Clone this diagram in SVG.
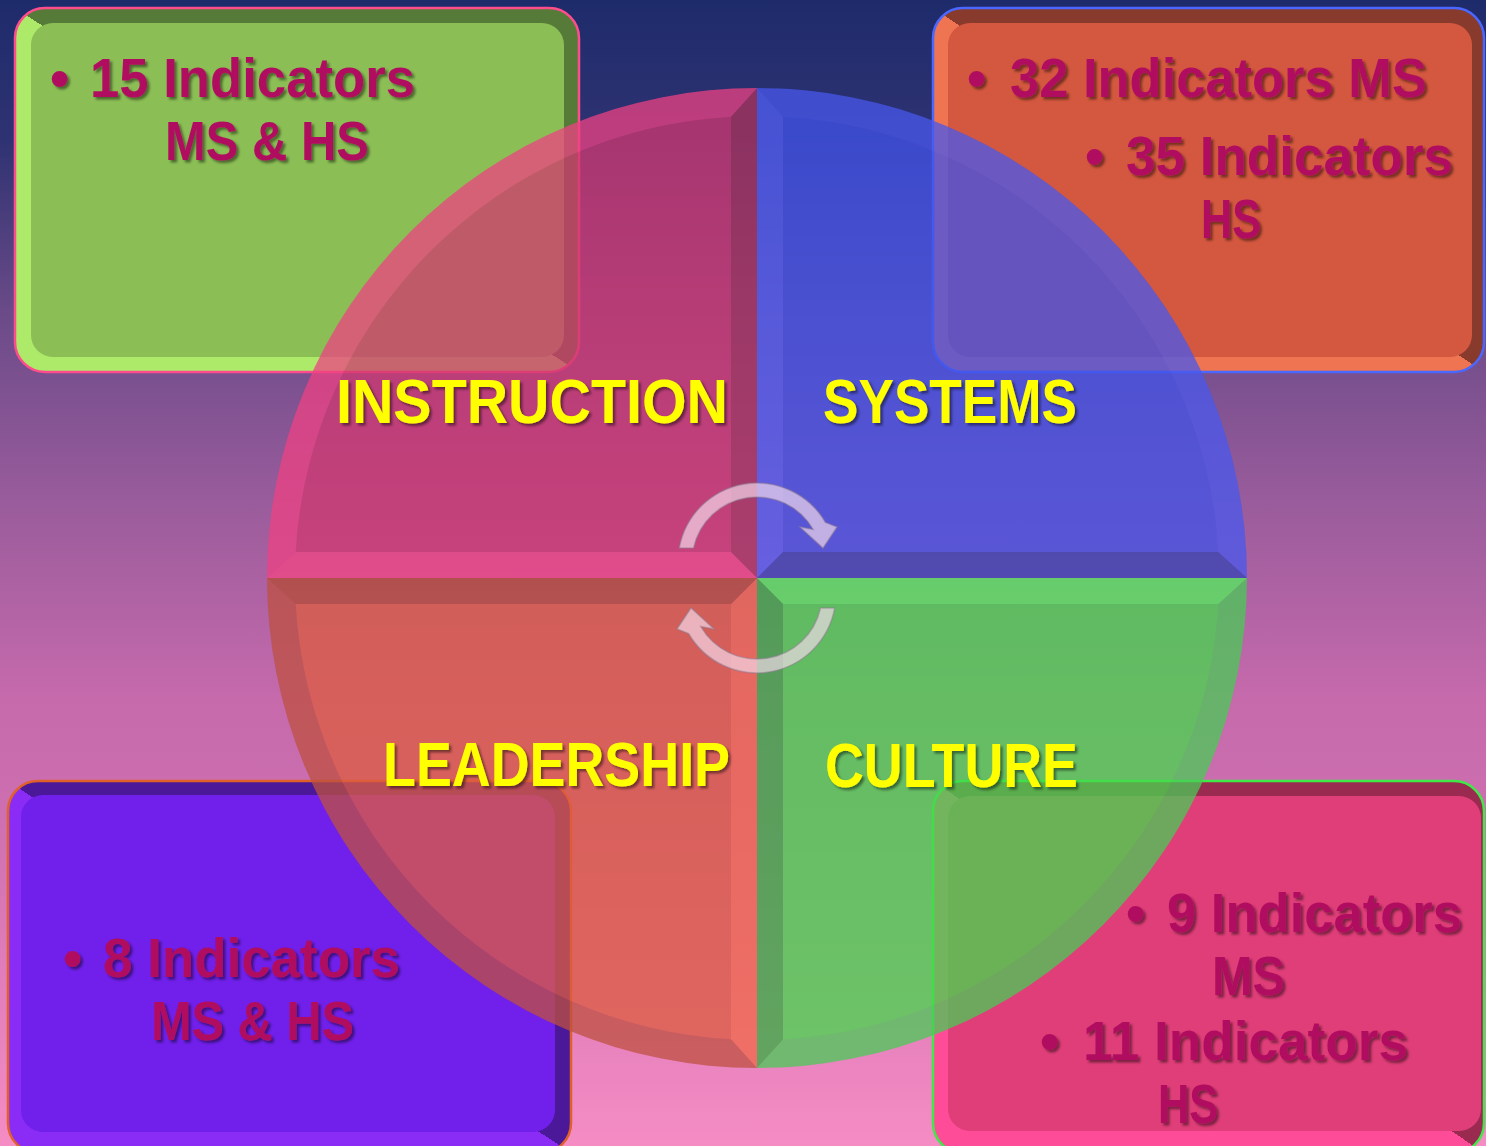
<svg xmlns="http://www.w3.org/2000/svg" width="1486" height="1146" viewBox="0 0 1486 1146">
<defs>
<linearGradient id="bg" x1="0" y1="0" x2="0" y2="1">
<stop offset="0" stop-color="#1E2B6B"/>
<stop offset="0.12" stop-color="#2E3272"/>
<stop offset="0.27" stop-color="#6A4A88"/>
<stop offset="0.44" stop-color="#9A5C9C"/>
<stop offset="0.61" stop-color="#C66AAC"/>
<stop offset="0.7" stop-color="#CC6EB0"/>
<stop offset="1" stop-color="#F58CC4"/>
</linearGradient>
<linearGradient id="bvTL" x1="0" y1="1" x2="1" y2="0"><stop offset="0.5" stop-color="#ADEA6A"/><stop offset="0.5" stop-color="#567A38"/></linearGradient>
<linearGradient id="bvTR" x1="0" y1="1" x2="1" y2="0"><stop offset="0.5" stop-color="#EE7452"/><stop offset="0.5" stop-color="#883A2C"/></linearGradient>
<linearGradient id="bvBL" x1="0" y1="1" x2="1" y2="0"><stop offset="0.5" stop-color="#8A2CF5"/><stop offset="0.5" stop-color="#4A1898"/></linearGradient>
<linearGradient id="bvBR" x1="0" y1="1" x2="1" y2="0"><stop offset="0.5" stop-color="#FF4C98"/><stop offset="0.5" stop-color="#9A2A50"/></linearGradient>
<filter id="sh" x="-10%" y="-20%" width="130%" height="150%">
<feDropShadow dx="2.5" dy="2.5" stdDeviation="1.2" flood-color="#000" flood-opacity="0.45"/>
</filter>
</defs>
<style>
.box-txt{font-family:"Liberation Sans",Arial,sans-serif;font-weight:bold;font-size:55px;fill:#B01060;filter:url(#sh)}
.lbl{font-family:"Liberation Sans",Arial,sans-serif;font-weight:bold;font-size:63px;fill:#FFFF00;filter:url(#sh)}
.outer{stroke-width:2.5}
.arrow{fill:#F4DCEC;fill-opacity:0.68;stroke:#8E7C92;stroke-opacity:0.5;stroke-width:1.5}
</style>
<rect width="1486" height="1146" fill="url(#bg)"/>

<g id="box-instruction">
<rect class="outer" x="15" y="8" width="564" height="364" rx="30" fill="url(#bvTL)" stroke="#FF4C8C"/>
<rect x="31" y="23" width="533" height="334" rx="22" fill="#8BBE55"/>
</g>
<g id="box-systems">
<rect class="outer" x="933" y="8" width="551" height="364" rx="30" fill="url(#bvTR)" stroke="#4A68FF"/>
<rect x="948" y="23" width="524" height="334" rx="22" fill="#D4583F"/>
</g>
<g id="box-leadership">
<rect class="outer" x="8" y="781" width="563" height="372" rx="30" fill="url(#bvBL)" stroke="#E0602A"/>
<rect x="21" y="795" width="534" height="337" rx="22" fill="#7020EA"/>
</g>
<g id="box-culture">
<rect class="outer" x="933" y="781" width="551" height="372" rx="30" fill="url(#bvBR)" stroke="#40E848"/>
<rect x="948" y="796" width="533" height="335" rx="22" fill="#E03E78"/>
</g>

<g id="cycle" opacity="0.75">
<g id="q-instruction" transform="translate(757 578)">
<path fill="#EE4283" d="M0 0 L-490 0 A490 490 0 0 1 0 -490 Z"/>
<polygon fill="#F34683" points="-490,0 0,0 -26,-26 -461.3,-26"/>
<polygon fill="#AC335C" points="0,0 0,-490 -26,-461.3 -26,-26"/>
<path fill="#D13971" d="M-26 -26 L-461.3 -26 A462 462 0 0 1 -26 -461.3 Z"/>
</g>
<g id="q-systems" transform="translate(757 578) rotate(90)">
<path fill="#4858EE" d="M0 0 L-490 0 A490 490 0 0 1 0 -490 Z"/>
<polygon fill="#505FF5" points="-490,0 0,0 -26,-26 -461.3,-26"/>
<polygon fill="#3443B5" points="0,0 0,-490 -26,-461.3 -26,-26"/>
<path fill="#4153E9" d="M-26 -26 L-461.3 -26 A462 462 0 0 1 -26 -461.3 Z"/>
</g>
<g id="q-culture" transform="translate(757 578) rotate(180)">
<path fill="#49CB56" d="M0 0 L-490 0 A490 490 0 0 1 0 -490 Z"/>
<polygon fill="#51F058" points="-490,0 0,0 -26,-26 -461.3,-26"/>
<polygon fill="#34AE40" points="0,0 0,-490 -26,-461.3 -26,-26"/>
<path fill="#44D84B" d="M-26 -26 L-461.3 -26 A462 462 0 0 1 -26 -461.3 Z"/>
</g>
<g id="q-leadership" transform="translate(757 578) rotate(270)">
<path fill="#BE5041" d="M0 0 L-490 0 A490 490 0 0 1 0 -490 Z"/>
<polygon fill="#F16948" points="-490,0 0,0 -26,-26 -461.3,-26"/>
<polygon fill="#B44B35" points="0,0 0,-490 -26,-461.3 -26,-26"/>
<path fill="#DD5C41" d="M-26 -26 L-461.3 -26 A462 462 0 0 1 -26 -461.3 Z"/>
</g>
</g>

<g id="connectors">
<path class="arrow" d="M679.3 548 A79 79 0 0 1 825.4 522.5 L837 527 L823 548 L800 527 L813.3 529.5 A65 65 0 0 0 693.5 548 Z"/>
<path class="arrow" transform="rotate(180 757 578)" d="M679.3 548 A79 79 0 0 1 825.4 522.5 L837 527 L823 548 L800 527 L813.3 529.5 A65 65 0 0 0 693.5 548 Z"/>
</g>

<g id="labels">
<text class="lbl" x="336" y="423" textLength="392" lengthAdjust="spacingAndGlyphs">INSTRUCTION</text>
<text class="lbl" x="823" y="423" textLength="254" lengthAdjust="spacingAndGlyphs">SYSTEMS</text>
<text class="lbl" x="383" y="786" textLength="347" lengthAdjust="spacingAndGlyphs">LEADERSHIP</text>
<text class="lbl" x="825" y="787" textLength="253" lengthAdjust="spacingAndGlyphs">CULTURE</text>
</g>

<g id="text-instruction">
<text class="box-txt" x="50" y="97">•</text>
<text class="box-txt" x="90" y="97" textLength="325" lengthAdjust="spacingAndGlyphs">15 Indicators</text>
<text class="box-txt" x="165" y="160" textLength="204" lengthAdjust="spacingAndGlyphs">MS &amp; HS</text>
</g>
<g id="text-systems">
<text class="box-txt" x="967" y="97">•</text>
<text class="box-txt" x="1010" y="97" textLength="417" lengthAdjust="spacingAndGlyphs">32 Indicators MS</text>
<text class="box-txt" x="1085" y="175">•</text>
<text class="box-txt" x="1126" y="175" textLength="327" lengthAdjust="spacingAndGlyphs">35 Indicators</text>
<text class="box-txt" x="1201" y="238" textLength="60" lengthAdjust="spacingAndGlyphs">HS</text>
</g>
<g id="text-leadership">
<text class="box-txt" x="63" y="977">•</text>
<text class="box-txt" x="103" y="977" textLength="297" lengthAdjust="spacingAndGlyphs">8 Indicators</text>
<text class="box-txt" x="151" y="1040" textLength="203" lengthAdjust="spacingAndGlyphs">MS &amp; HS</text>
</g>
<g id="text-culture">
<text class="box-txt" x="1126" y="932">•</text>
<text class="box-txt" x="1167" y="932" textLength="295" lengthAdjust="spacingAndGlyphs">9 Indicators</text>
<text class="box-txt" x="1212" y="995" textLength="73" lengthAdjust="spacingAndGlyphs">MS</text>
<text class="box-txt" x="1040" y="1060">•</text>
<text class="box-txt" x="1083" y="1060" textLength="325" lengthAdjust="spacingAndGlyphs">11 Indicators</text>
<text class="box-txt" x="1158" y="1123" textLength="60" lengthAdjust="spacingAndGlyphs">HS</text>
</g>
</svg>
